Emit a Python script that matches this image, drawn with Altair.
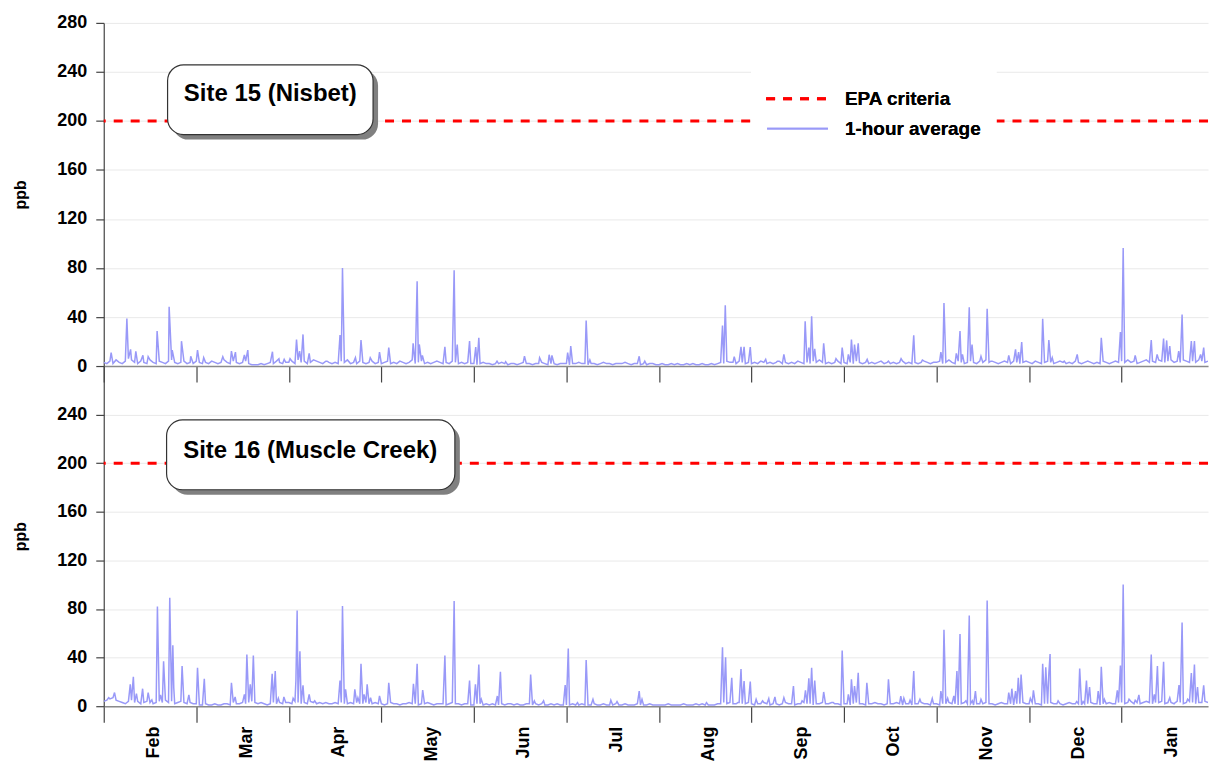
import json
import altair as alt
import pandas as pd

# ---------------- data ----------------
months = ["Feb", "Mar", "Apr", "May", "Jun", "Jul", "Aug", "Sep", "Oct", "Nov", "Dec", "Jan"]
month_starts = [0, 30, 60, 90, 120, 150, 180, 210, 240, 270, 300, 330]
x_max = 358
epa_ppb = 200
y_ticks_top = [0, 40, 80, 120, 160, 200, 240, 280]
y_ticks_bottom = [0, 40, 80, 120, 160, 200, 240]
site_names = ["Site 15 (Nisbet)", "Site 16 (Muscle Creek)"]
legend_labels = ["EPA criteria", "1-hour average"]

# daily background level (ppb), one value per day, Feb ... Jan
base_15 = [
    3, 2, 4, 2, 5, 3, 2, 4, 6, 5, 3, 2, 4, 3, 2, 5, 3, 2, 4, 3, 2, 4, 5, 3, 2, 3, 4, 2, 3, 2,
    4, 3, 2, 3, 2, 4, 3, 2, 3, 5, 3, 2, 4, 3, 2, 3, 4, 2, 1, 1, 1, 2, 1, 2, 3, 2, 4, 3, 2, 3,
    3, 4, 2, 5, 3, 4, 2, 3, 5, 4, 3, 2, 4, 3, 2, 3, 2, 4, 3, 5, 2, 3, 2, 4, 3, 2, 3, 4, 2, 3,
    2, 3, 4, 2, 3, 2, 4, 3, 2, 3, 5, 2, 3, 4, 2, 3, 2, 3, 4, 3, 2, 3, 2, 4, 3, 2, 3, 2, 3, 2,
    2, 1, 2, 3, 2, 2, 1, 2, 2, 3, 2, 1, 2, 2, 1, 2, 3, 2, 2, 1, 2, 2, 3, 2, 1, 2, 2, 1, 2, 2,
    2, 1, 2, 2, 3, 2, 2, 1, 2, 2, 1, 2, 3, 2, 2, 1, 2, 2, 2, 3, 2, 1, 2, 2, 1, 2, 1, 2, 2, 1,
    1, 2, 1, 1, 2, 1, 2, 1, 1, 2, 1, 2, 1, 1, 2, 1, 1, 2, 1, 2, 3, 2, 4, 3, 3, 2, 4, 3, 2, 3,
    2, 3, 2, 4, 3, 2, 3, 2, 3, 4, 2, 3, 2, 3, 2, 4, 3, 2, 3, 2, 4, 3, 5, 3, 2, 3, 2, 3, 4, 2,
    3, 2, 3, 2, 4, 3, 2, 3, 2, 3, 2, 3, 4, 2, 3, 2, 3, 2, 3, 4, 2, 3, 2, 3, 2, 3, 4, 3, 2, 3,
    3, 4, 2, 3, 5, 3, 2, 4, 3, 2, 3, 4, 3, 2, 4, 3, 5, 3, 4, 3, 2, 3, 4, 3, 2, 4, 3, 2, 3, 4,
    3, 2, 4, 3, 2, 3, 4, 3, 2, 3, 4, 3, 2, 3, 2, 4, 3, 2, 3, 4, 3, 2, 3, 2, 4, 3, 2, 3, 4, 3,
    4, 3, 5, 3, 4, 2, 3, 4, 5, 3, 4, 3, 5, 4, 3, 4, 5, 3, 4, 3, 5, 4, 3, 4, 3, 5, 4, 3, 4,
]

base_16 = [
    4, 5, 6, 7, 5, 4, 3, 2, 4, 5, 3, 4, 2, 3, 4, 3, 2, 3, 4, 3, 5, 3, 4, 2, 3, 4, 3, 2, 3, 2,
    2, 1, 1, 2, 1, 1, 2, 1, 1, 2, 2, 1, 3, 2, 2, 3, 2, 3, 4, 3, 2, 3, 2, 1, 2, 3, 2, 3, 2, 3,
    3, 2, 4, 3, 2, 3, 2, 4, 3, 2, 3, 2, 3, 2, 2, 3, 2, 3, 2, 2, 3, 2, 3, 2, 2, 3, 2, 2, 3, 2,
    2, 1, 2, 3, 2, 2, 1, 2, 2, 3, 2, 2, 1, 2, 2, 3, 2, 1, 2, 2, 2, 1, 2, 3, 2, 2, 1, 2, 2, 1,
    1, 2, 2, 1, 2, 1, 2, 1, 1, 2, 1, 2, 2, 1, 2, 1, 1, 2, 2, 1, 2, 1, 2, 1, 1, 2, 1, 2, 1, 1,
    1, 1, 2, 1, 1, 2, 1, 1, 1, 2, 1, 1, 2, 1, 1, 1, 2, 1, 1, 2, 1, 1, 1, 2, 1, 1, 1, 2, 1, 1,
    1, 1, 1, 2, 1, 1, 1, 1, 2, 1, 1, 1, 2, 1, 2, 1, 1, 1, 1, 2, 2, 3, 2, 3, 2, 2, 3, 2, 2, 3,
    2, 1, 2, 2, 3, 2, 1, 2, 2, 1, 2, 3, 2, 2, 1, 2, 2, 3, 2, 2, 1, 2, 2, 3, 2, 2, 3, 2, 2, 1,
    2, 2, 1, 2, 3, 2, 2, 1, 2, 2, 3, 2, 2, 1, 2, 2, 2, 3, 2, 1, 2, 2, 1, 2, 2, 3, 2, 2, 1, 2,
    2, 1, 2, 2, 3, 2, 2, 1, 2, 3, 2, 2, 1, 2, 2, 2, 3, 2, 2, 1, 2, 3, 2, 2, 2, 1, 2, 2, 3, 2,
    2, 3, 2, 2, 1, 2, 2, 3, 2, 2, 2, 1, 2, 3, 2, 2, 2, 1, 2, 2, 3, 2, 2, 1, 2, 2, 3, 2, 2, 3,
    3, 2, 3, 4, 2, 3, 2, 3, 4, 3, 2, 3, 3, 4, 2, 3, 3, 2, 4, 3, 2, 3, 4, 3, 2, 3, 3, 4, 3,
]

# short 1-hour peaks: (day position, ppb)
spikes_15 = [
    (2.4, 10.9), (7.5, 38.8), (8.7, 13.6), (10.4, 12), (12.7, 8.7), (14.4, 7.6), (17.3, 28.5),
    (21.2, 48.3), (22.2, 13), (25.2, 20.3), (28.2, 8), (30.4, 13), (32.4, 6.8), (38.6, 7.6),
    (41.4, 12.2), (42.7, 11.4), (45.6, 9), (46.7, 13), (54.7, 11.7), (56.8, 6), (58.5, 5.4),
    (60.4, 6), (62.5, 21.7), (63.5, 12.2), (64.6, 25.8), (66.6, 10.3), (72.4, 4), (76.6, 25.2),
    (77.4, 80), (81.6, 6.8), (83.4, 21.2), (86.4, 6.8), (89.4, 11.4), (92.4, 15), (100.3, 18.5),
    (100.7, 8), (101.6, 69.2), (102.3, 17.6), (103.3, 8.7), (110.6, 15.7), (113.6, 78.1),
    (114.6, 17.6), (118.6, 20.3), (120.6, 15.5), (121.6, 23), (127.5, 4), (130.3, 3.5),
    (136.4, 8), (141.3, 6.8), (144.4, 9.2), (145.3, 8.7), (150.4, 10.9), (151.4, 16.3),
    (156.4, 37.2), (157.6, 4.9), (173.6, 8), (175.4, 4), (200.6, 33.1), (201.5, 49.6),
    (204.4, 7.6), (206.6, 15.7), (207.6, 15.7), (209.6, 15.5), (214.6, 5.4), (218.4, 4),
    (220.5, 9.5), (227.4, 36.6), (228.6, 15), (229.5, 40.7), (230.5, 14), (233.4, 18.5),
    (237.4, 6), (239.4, 15), (241.4, 9.5), (242.4, 21.7), (243.4, 17.6), (244.6, 18.5),
    (247.5, 5.4), (254.4, 4), (258.5, 6), (262.6, 25), (265.4, 4.9), (271.4, 11.4),
    (272.4, 51.5), (276.4, 10.3), (277.6, 28.5), (278.4, 9.5), (280.6, 48), (281.5, 17.6),
    (284.4, 8), (286.4, 46.7), (287.6, 4), (293.4, 8.7), (295.6, 13.6), (296.6, 11.4),
    (297.6, 19.5), (304.4, 38.5), (306.4, 21.2), (307.5, 6.8), (311.4, 4), (315.6, 9.5),
    (323.4, 23), (329.6, 27.7), (330.5, 96.3), (334.4, 8.7), (339.6, 21.2), (341.5, 9.5),
    (343.6, 22.5), (344.6, 20.9), (345.6, 16.3), (348.5, 12.2), (349.6, 42), (352.6, 20.3),
    (353.6, 20.3), (355.6, 9.5), (356.6, 15),
]

spikes_16 = [
    (1.6, 7), (3.5, 11.2), (8.6, 18), (9.6, 24.2), (10.6, 10.3), (12.6, 14.4), (14.4, 11.2),
    (15.6, 5.2), (17.4, 82), (18.4, 9.3), (19.4, 37), (21.4, 89.3), (22.4, 50.1), (22.7, 15.3),
    (25.4, 33), (27.6, 9.3), (30.4, 31.6), (32.6, 22.6), (41.4, 19.3), (42.6, 7.6), (45.6, 9.8),
    (46.4, 42.5), (47.5, 18), (48.5, 41.7), (54.6, 26.7), (55.6, 28.9), (56.6, 6.5), (58.4, 7.6),
    (61.4, 6.5), (62.3, 21.2), (62.7, 78.7), (63.6, 45.2), (64.6, 17.2), (66.6, 9.8), (68.4, 4.4),
    (76.6, 21.2), (77.4, 82.5), (78.4, 13.9), (81.4, 13.9), (82.4, 7), (83.4, 34.9), (84.4, 9.8),
    (85.4, 18), (86.5, 7), (89.4, 8.4), (92.4, 19.3), (100.4, 18.5), (101.6, 34.9), (103.4, 13.3),
    (110.6, 41.7), (113.6, 86.6), (118.6, 21.2), (120.5, 18), (121.6, 34.3), (122.4, 5.7),
    (127.6, 8.4), (128.6, 28.3), (138.4, 26.1), (139.6, 4.4), (142.6, 4.4), (149.6, 17.4),
    (150.6, 47.4), (153.6, 3), (156.4, 38.1), (158.6, 5.7), (164.4, 4.9), (166.4, 3.8),
    (173.6, 12.5), (174.5, 5.7), (195.4, 3), (200.6, 48.5), (201.6, 40.3), (203.6, 23.4),
    (205.6, 3), (206.6, 30.5), (207.6, 20.7), (209.6, 20.2), (211.5, 5.7), (213.6, 4.4),
    (215.6, 6.3), (217.6, 7.6), (220.5, 7), (223.6, 16.6), (226.4, 4.4), (227.5, 13),
    (228.6, 22.9), (229.5, 31.6), (230.5, 21.2), (233.4, 11.7), (236.5, 3), (239.4, 45.8),
    (241.4, 9.8), (242.4, 22.1), (243.4, 16.6), (244.6, 27.5), (247.4, 19.3), (254.4, 22.1),
    (258.4, 8.2), (259.4, 6.5), (261.4, 4.9), (262.6, 28.9), (264.6, 5.7), (268.6, 6.3),
    (271.4, 12.5), (272.4, 62.9), (273.6, 6.5), (275.6, 8.4), (276.6, 28.9), (277.6, 59.4),
    (279.5, 4.4), (280.6, 74.6), (281.6, 4.4), (282.6, 12.5), (284.4, 5.7), (286.4, 86.9),
    (293.4, 11.2), (294.4, 14.4), (295.6, 12.5), (296.5, 23.4), (297.4, 26.1), (300.4, 6.5),
    (301.4, 13), (304.4, 34.9), (305.4, 32.1), (306.4, 27), (306.8, 43), (309.4, 4.4),
    (315.4, 3.8), (316.4, 31), (317.5, 3.8), (318.6, 21.2), (319.6, 15.8), (322.4, 12.5),
    (323.4, 32.4), (324.4, 5.7), (328.6, 13), (329.6, 33.5), (330.5, 100.2), (332.4, 5.7),
    (334.4, 4.9), (335.6, 9.3), (339.6, 42.5), (340.6, 9.8), (341.6, 33), (343.6, 36.5),
    (345.6, 7), (347.4, 3), (348.6, 17.4), (349.6, 68.9), (351.4, 5.7), (352.6, 27.2),
    (353.6, 34.3), (354.6, 15.8), (356.6, 17.2),
]

# ---------------- styling ----------------
FONT = "Liberation Sans"
BLUE = "#9999f8"
RED = "#ff0000"
PLOT_W = 1107


def series(base, spikes):
    days = list(range(len(base))) + [d for d, _ in spikes]
    vals = list(base) + [v for _, v in spikes]
    return pd.DataFrame({"day": days, "ppb": vals}).sort_values("day", kind="stable")


label_expr = json.dumps(months) + "[round(datum.value / 30)]"


def panel(df, ticks, name, box, text_xy, with_labels, with_legend, height):
    x = alt.X(
        "day:Q",
        scale=alt.Scale(domain=[0, x_max], nice=False, zero=False),
        axis=alt.Axis(
            values=month_starts, title=None, grid=False,
            tickSize=16, tickColor="#444444", tickWidth=1.2,
            domainColor="#8a8a8a", domainWidth=1.6,
            labels=with_labels, labelExpr=label_expr, labelAngle=-90,
            labelOffset=50, labelPadding=4, labelFlush=False,
            labelOverlap=False, labelBound=False,
            labelFont=FONT, labelFontSize=18, labelFontWeight="bold",
            labelColor="black",
        ),
    )
    y = alt.Y(
        "ppb:Q",
        scale=alt.Scale(domain=[0, 280], nice=False),
        axis=alt.Axis(
            values=ticks, title="ppb", grid=True, gridColor="#e9e9e9", gridWidth=1,
            tickSize=8, tickColor="#444444", tickWidth=1.2,
            domainColor="#444444", domainWidth=1.2,
            labelFont=FONT, labelFontSize=18, labelFontWeight="bold",
            labelColor="black", labelPadding=9,
            titleFont=FONT, titleFontSize=16, titleFontWeight="bold",
            titleColor="black", titlePadding=28,
        ),
    )
    line = alt.Chart(df).mark_line(color=BLUE, strokeWidth=1.5, clip=True).encode(x=x, y=y)
    epa = alt.Chart(pd.DataFrame({"ppb": [epa_ppb]})).mark_rule(
        color=RED, strokeWidth=3, strokeDash=[9, 8]
    ).encode(y=y)

    x1, y1, x2, y2 = box
    one = pd.DataFrame({"name": [name]})
    shadow = alt.Chart(one).mark_rect(fill="#808080", cornerRadius=16).encode(
        x=alt.value(x1 + 5), x2=alt.value(x2 + 5), y=alt.value(y1 + 5), y2=alt.value(y2 + 5)
    )
    card = alt.Chart(one).mark_rect(
        fill="white", stroke="#333333", strokeWidth=1.2, cornerRadius=16
    ).encode(x=alt.value(x1), x2=alt.value(x2), y=alt.value(y1), y2=alt.value(y2))
    label = alt.Chart(one).mark_text(
        font=FONT, fontSize=24, fontWeight="bold", color="black",
        align="center", baseline="middle",
    ).encode(x=alt.value(text_xy[0]), y=alt.value(text_xy[1]), text="name:N")

    layers = [line, epa, shadow, card, label]

    if with_legend:
        leg_df = pd.DataFrame({"label": legend_labels})
        leg_bg = alt.Chart(leg_df).mark_rect(fill="white").encode(
            x=alt.value(649), x2=alt.value(895), y=alt.value(47), y2=alt.value(128)
        )
        leg_red = alt.Chart(leg_df).mark_rule(
            color=RED, strokeWidth=3, strokeDash=[9, 8]
        ).encode(x=alt.value(664), x2=alt.value(726), y=alt.value(76))
        leg_blue = alt.Chart(leg_df).mark_rule(color=BLUE, strokeWidth=1.6).encode(
            x=alt.value(665), x2=alt.value(726), y=alt.value(106)
        )
        leg_t1 = alt.Chart(leg_df).mark_text(
            font=FONT, fontSize=19, fontWeight="bold", color="black",
            align="left", baseline="middle",
        ).encode(x=alt.value(743), y=alt.value(76), text=alt.value(legend_labels[0]))
        leg_t2 = alt.Chart(leg_df).mark_text(
            font=FONT, fontSize=19, fontWeight="bold", color="black",
            align="left", baseline="middle",
        ).encode(x=alt.value(743), y=alt.value(106), text=alt.value(legend_labels[1]))
        layers += [leg_bg, leg_red, leg_blue, leg_t1, leg_t2]

    return alt.layer(*layers).properties(width=PLOT_W, height=height)


top = panel(series(base_15, spikes_15), y_ticks_top, site_names[0],
            (64, 42, 270, 112), (167, 71), False, True, 344)
bottom = panel(series(base_16, spikes_16), y_ticks_bottom, site_names[1],
               (63, 54, 352, 124), (207, 85), True, False, 341)

chart = (
    alt.vconcat(top, bottom, spacing=0, bounds="flush")
    .properties(padding={"left": 12, "top": 13, "right": 0, "bottom": 0}, background="white")
    .configure_view(strokeWidth=0)
)

chart.save("out.html", embed_options={"renderer": "svg", "actions": False})
